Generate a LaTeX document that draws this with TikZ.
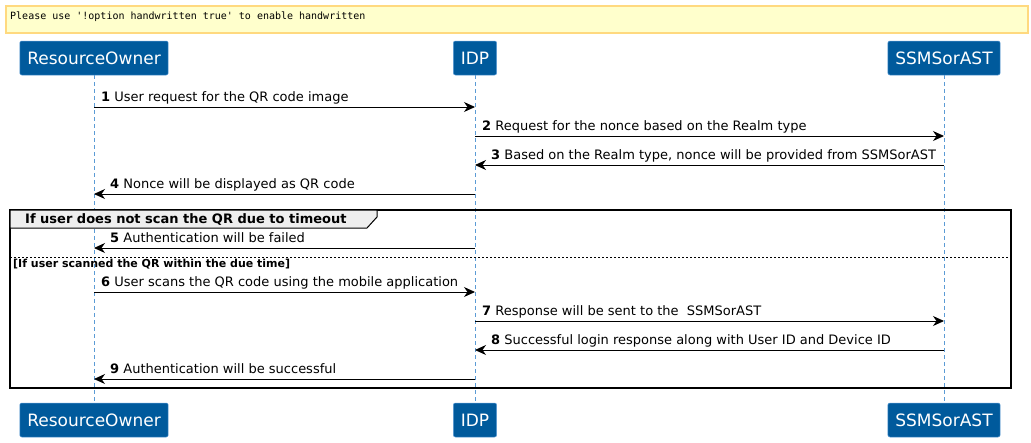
\documentclass[tikz,border=0pt]{standalone}
\usepackage{fontspec}
\setmainfont{DejaVu Sans}
\newfontfamily\monofont{DejaVu Sans Mono}
\usetikzlibrary{arrows.meta}
\definecolor{pblue}{HTML}{005A9C}
\definecolor{lblue}{HTML}{5B9BD5}
\definecolor{notefill}{HTML}{FFFFCC}
\definecolor{noteborder}{HTML}{FFD97F}
\definecolor{grpfill}{HTML}{EEEEEE}
\tikzset{
  part/.style={draw=lblue, fill=pblue, rounded corners=2pt, text=white, font=\fontsize{17}{19}\selectfont, minimum height=34pt, inner xsep=7.5pt, line width=0.5pt},
  life/.style={draw=lblue, dashed, dash pattern=on 4pt off 3pt, line width=0.6pt},
  msg/.style={draw=black, line width=0.9pt, -{Stealth[length=11pt,width=10pt,inset=3.5pt]}},
  mlabel/.style={font=\fontsize{13}{15}\selectfont, anchor=base west, inner sep=0pt},
}
\newcommand{\mnum}[1]{\textbf{#1}}
\begin{document}
\begin{tikzpicture}[x=1pt,y=-1pt]
\useasboundingbox (0,0) rectangle (1031,442);
% note
\node[draw=noteborder, fill=notefill, line width=2.5pt, minimum width=1022pt, minimum height=27pt, anchor=north west, inner sep=0pt] (note) at (4.5,4.5) {};
\node[font=\monofont\fontsize{10}{12}\selectfont, anchor=west, inner sep=0pt] (notetext) at (10,17) {Please use '!option handwritten true' to enable handwritten};
% participants
\node[part] (ro) at (94,58) {ResourceOwner};
\node[part] (idp) at (475,58) {IDP};
\node[part] (ss) at (944,58) {SSMSorAST};
\node[part] (rob) at (94,420) {ResourceOwner};
\node[part] (idpb) at (475,420) {IDP};
\node[part] (ssb) at (944,420) {SSMSorAST};
\draw[life] (ro.south) -- (rob.north);
\draw[life] (idp.south) -- (idpb.north);
\draw[life] (ss.south) -- (ssb.north);
% group
\coordinate (g1) at (10,210);
\coordinate (g2) at (1011,388);
\draw[line width=1.5pt] (g1) rectangle (g2);
\draw[fill=grpfill, line width=1pt] (10,210) -- (377,210) -- (377,217) -- (367,228) -- (10,228) -- cycle;
\node[font=\bfseries\fontsize{13}{15}\selectfont, anchor=base west, inner sep=0pt] (gtitle) at (25,223) {If user does not scan the QR due to timeout};
\draw[dash pattern=on 2pt off 2pt, line width=0.8pt] (10,257) -- (1011,257);
\node[font=\bfseries\fontsize{11}{13}\selectfont, anchor=base west, inner sep=0pt] (elsel) at (13,267) {[If user scanned the QR within the due time]};
% coordinates on lifelines
\foreach \n/\y in {1/107,2/136,3/165,4/194,5/248,6/292,7/321,8/350,9/379}{
  \coordinate (ro\n) at (94,\y);
  \coordinate (idp\n) at (475,\y);
  \coordinate (ss\n) at (944,\y);
}
\draw[msg] (ro1) -- (idp1);
\node[mlabel] at (101,101) {\mnum{1} User request for the QR code image};
\draw[msg] (idp2) -- (ss2);
\node[mlabel] at (482,130) {\mnum{2} Request for the nonce based on the Realm type};
\draw[msg] (ss3) -- (idp3);
\node[mlabel] at (491,159) {\mnum{3} Based on the Realm type, nonce will be provided from SSMSorAST};
\draw[msg] (idp4) -- (ro4);
\node[mlabel] at (110,188) {\mnum{4} Nonce will be displayed as QR code};
\draw[msg] (idp5) -- (ro5);
\node[mlabel] at (110,242) {\mnum{5} Authentication will be failed};
\draw[msg] (ro6) -- (idp6);
\node[mlabel] at (101,286) {\mnum{6} User scans the QR code using the mobile application};
\draw[msg] (idp7) -- (ss7);
\node[mlabel] at (482,315) {\mnum{7} Response will be sent to the \ SSMSorAST};
\draw[msg] (ss8) -- (idp8);
\node[mlabel] at (491,344) {\mnum{8} Successful login response along with User ID and Device ID};
\draw[msg] (idp9) -- (ro9);
\node[mlabel] at (110,373) {\mnum{9} Authentication will be successful};
\end{tikzpicture}
\end{document}
